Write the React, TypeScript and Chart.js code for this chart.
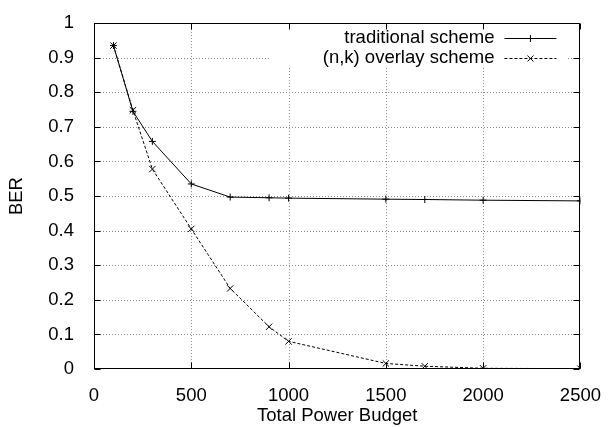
import React, { useEffect, useRef } from "react";
import { Chart, registerables } from "chart.js";

Chart.register(...registerables);

const powerBudget = [100, 200, 300, 500, 700, 900, 1000, 1500, 1700, 2000, 2500];
const traditionalBER = [0.935, 0.745, 0.658, 0.535, 0.497, 0.495, 0.494, 0.491, 0.49, 0.488, 0.486];
const overlayBER = [0.935, 0.748, 0.578, 0.405, 0.233, 0.122, 0.08, 0.016, 0.008, 0.002, 0.001];
const seriesNames = ["traditional scheme", "(n,k) overlay scheme"];
const xTicks = [0, 500, 1000, 1500, 2000, 2500];
const yTicks = [0, 0.1, 0.2, 0.3, 0.4, 0.5, 0.6, 0.7, 0.8, 0.9, 1];
const xTitle = "Total Power Budget";
const yTitle = "BER";

const FONT = "'Liberation Sans', Arial, Helvetica, sans-serif";
const FS = 18.5;

const gnuplotPlugin = {
  id: "gnuplotFrame",
  beforeDatasetsDraw(chart: any) {
    const ctx = chart.ctx;
    const { left, right, top, bottom } = chart.chartArea;
    const xs = chart.scales.x;
    const ys = chart.scales.y;
    ctx.save();
    ctx.strokeStyle = "#8a8a8a";
    ctx.lineWidth = 1;
    ctx.setLineDash([1, 2]);
    for (const v of xTicks) {
      const px = Math.round(xs.getPixelForValue(v)) + 0.5;
      if (px <= left + 1 || px >= right - 1) continue;
      ctx.beginPath();
      ctx.moveTo(px, top);
      ctx.lineTo(px, bottom);
      ctx.stroke();
    }
    for (const v of yTicks) {
      const py = Math.round(ys.getPixelForValue(v)) + 0.5;
      if (py <= top + 1 || py >= bottom - 1) continue;
      ctx.beginPath();
      ctx.moveTo(left, py);
      ctx.lineTo(right, py);
      ctx.stroke();
    }
    ctx.setLineDash([]);
    // legend key box background (covers grid like gnuplot)
    ctx.fillStyle = "#ffffff";
    ctx.fillRect(right - 311, top + 1, 298, 42);
    ctx.restore();
  },
  afterDatasetsDraw(chart: any) {
    const ctx = chart.ctx;
    const { left, right, top, bottom } = chart.chartArea;
    const xs = chart.scales.x;
    const ys = chart.scales.y;
    ctx.save();
    ctx.strokeStyle = "#000";
    ctx.lineWidth = 1;
    const L = Math.round(left) + 0.5;
    const R = Math.round(right) - 0.5;
    const T = Math.round(top) + 0.5;
    const B = Math.round(bottom) - 0.5;
    ctx.strokeRect(L, T, R - L, B - T);
    const tl = 6;
    ctx.beginPath();
    for (const v of xTicks) {
      const px = Math.round(xs.getPixelForValue(v)) + 0.5;
      ctx.moveTo(px, B);
      ctx.lineTo(px, B - tl);
      ctx.moveTo(px, T);
      ctx.lineTo(px, T + tl);
    }
    for (const v of yTicks) {
      const py = Math.round(ys.getPixelForValue(v)) + 0.5;
      ctx.moveTo(L, py);
      ctx.lineTo(L + tl, py);
      ctx.moveTo(R, py);
      ctx.lineTo(R - tl, py);
    }
    ctx.stroke();

    // legend
    ctx.font = `${FS}px ${FONT}`;
    ctx.fillStyle = "#000";
    ctx.textAlign = "right";
    ctx.textBaseline = "middle";
    const rows = [top + 15, top + 35];
    const textX = right - 86;
    const lx0 = right - 76;
    const lx1 = right - 24;
    const cx = (lx0 + lx1) / 2;
    seriesNames.forEach((name, i) => {
      const y = Math.round(rows[i]) + 0.5;
      ctx.fillText(name, textX, y - 1);
      ctx.beginPath();
      ctx.setLineDash(i === 0 ? [] : [3, 2]);
      ctx.moveTo(lx0, y);
      ctx.lineTo(lx1, y);
      ctx.stroke();
      ctx.setLineDash([]);
      ctx.beginPath();
      if (i === 0) {
        ctx.moveTo(cx - 3.5, y);
        ctx.lineTo(cx + 3.5, y);
        ctx.moveTo(cx, y - 3.5);
        ctx.lineTo(cx, y + 3.5);
      } else {
        ctx.moveTo(cx - 3, y - 3);
        ctx.lineTo(cx + 3, y + 3);
        ctx.moveTo(cx - 3, y + 3);
        ctx.lineTo(cx + 3, y - 3);
      }
      ctx.stroke();
    });
    ctx.restore();
  },
};

export default function App() {
  const ref = useRef<HTMLCanvasElement | null>(null);
  useEffect(() => {
    if (!ref.current) return;
    const chart = new Chart(ref.current, {
      type: "line",
      data: {
        datasets: [
          {
            label: seriesNames[0],
            data: powerBudget.map((x, i) => ({ x, y: traditionalBER[i] })),
            borderColor: "#000",
            borderWidth: 1,
            pointStyle: "cross",
            pointRadius: 3.5,
            pointBorderColor: "#000",
            pointBorderWidth: 1,
            pointBackgroundColor: "#000",
            fill: false,
            tension: 0,
          },
          {
            label: seriesNames[1],
            data: powerBudget.map((x, i) => ({ x, y: overlayBER[i] })),
            borderColor: "#000",
            borderWidth: 1,
            borderDash: [3, 2],
            pointStyle: "crossRot",
            pointRadius: 4.5,
            pointBorderColor: "#000",
            pointBorderWidth: 1,
            pointBackgroundColor: "#000",
            fill: false,
            tension: 0,
          },
        ],
      },
      options: {
        responsive: false,
        devicePixelRatio: 1,
        animation: false,
        layout: { padding: { top: 16, right: 25, left: 0, bottom: 0 } },
        plugins: { legend: { display: false }, tooltip: { enabled: false } },
        scales: {
          x: {
            type: "linear",
            min: 0,
            max: 2500,
            afterBuildTicks: (scale: any) => {
              scale.ticks = xTicks.map((v) => ({ value: v }));
            },
            afterFit: (scale: any) => {
              scale.height = 58;
            },
            grid: { display: false },
            border: { display: false },
            ticks: {
              color: "#000",
              padding: 8,
              maxRotation: 0,
              font: { family: FONT, size: FS },
              callback: (v: any) => String(v),
            },
            title: {
              display: true,
              text: xTitle,
              color: "#000",
              font: { family: FONT, size: FS },
              padding: { top: 0, bottom: 0 },
            },
          },
          y: {
            type: "linear",
            min: 0,
            max: 1,
            afterBuildTicks: (scale: any) => {
              scale.ticks = yTicks.map((v) => ({ value: v }));
            },
            afterFit: (scale: any) => {
              scale.width = 94;
            },
            grid: { display: false },
            border: { display: false },
            ticks: {
              color: "#000",
              padding: 12,
              font: { family: FONT, size: FS },
              callback: (v: any) => String(Number(Number(v).toFixed(1))),
            },
            title: {
              display: true,
              text: yTitle,
              color: "#000",
              font: { family: FONT, size: FS },
              padding: { top: 6, bottom: 0 },
            },
          },
        },
      },
      plugins: [gnuplotPlugin],
    });
    return () => chart.destroy();
  }, []);
  return (
    <div style={{ position: "absolute", left: 0, top: 0, width: 609, height: 427, background: "#fff" }}>
      <canvas ref={ref} width={609} height={427} style={{ display: "block" }} />
    </div>
  );
}
